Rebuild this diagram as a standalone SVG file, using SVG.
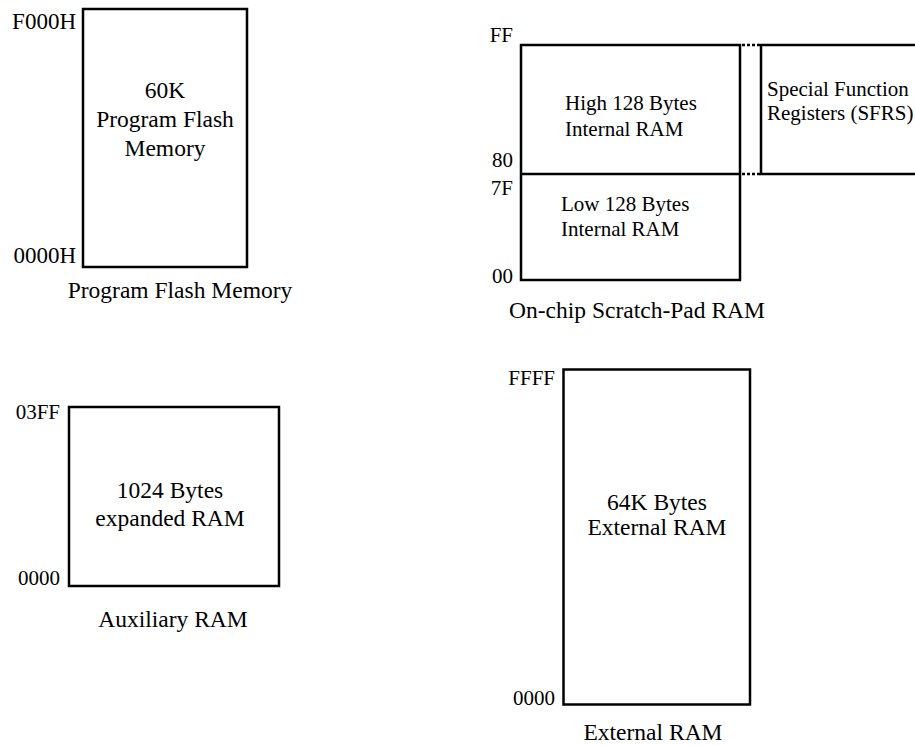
<svg xmlns="http://www.w3.org/2000/svg" width="915" height="745" viewBox="0 0 915 745">
<style>
.box{fill:#fff;stroke:#000;stroke-width:2.5}
.ln{stroke:#000;stroke-width:2.5;fill:none}
.dot{stroke:#000;stroke-width:2.5;stroke-dasharray:3 2;fill:none}
text{font-family:"Liberation Serif","Times New Roman",serif;fill:#000}
.t{font-size:23.5px;text-anchor:middle}
.s{font-size:21px}
.a{font-size:21px;text-anchor:end}
</style>
<rect width="915" height="745" fill="#fff"/>
<g id="flash">
<rect class="box" x="83" y="9" width="164" height="258"/>
<text class="a" x="76" y="29" style="font-size:23px">F000H</text>
<text class="a" x="76" y="263" style="font-size:23px">0000H</text>
<text class="t" x="165" y="98">60K</text>
<text class="t" x="165" y="127">Program Flash</text>
<text class="t" x="165" y="156">Memory</text>
<text class="t" x="180" y="298">Program Flash Memory</text>
</g>
<g id="scratchpad">
<rect class="box" x="521" y="45" width="219" height="235"/>
<line class="ln" x1="521" y1="174" x2="740" y2="174"/>
<text class="a" x="513" y="42">FF</text>
<text class="a" x="513" y="167">80</text>
<text class="a" x="513" y="195">7F</text>
<text class="a" x="513" y="283">00</text>
<text class="s" x="565" y="110">High 128 Bytes</text>
<text class="s" x="565" y="136">Internal RAM</text>
<text class="s" x="561" y="211">Low 128 Bytes</text>
<text class="s" x="561" y="236">Internal RAM</text>
<text class="t" x="637" y="318">On-chip Scratch-Pad RAM</text>
</g>
<g id="sfr">
<rect class="box" x="761" y="45" width="170" height="129"/>
<text class="s" x="767" y="96">Special Function</text>
<text class="s" x="767" y="120">Registers (SFRS)</text>
</g>
<g id="auxram">
<rect class="box" x="69" y="407" width="210" height="179"/>
<text class="a" x="60" y="419">03FF</text>
<text class="a" x="60" y="585">0000</text>
<text class="t" x="170" y="498">1024 Bytes</text>
<text class="t" x="170" y="526">expanded RAM</text>
<text class="t" x="173" y="627">Auxiliary RAM</text>
</g>
<g id="extram">
<rect class="box" x="563.5" y="369.5" width="186.5" height="335"/>
<text class="a" x="555" y="385">FFFF</text>
<text class="a" x="555" y="705">0000</text>
<text class="t" x="657" y="510">64K Bytes</text>
<text class="t" x="657" y="535">External RAM</text>
<text class="t" x="653" y="740">External RAM</text>
</g>
<g id="connectors">
<line class="dot" x1="742" y1="45" x2="760" y2="45"/>
<line class="dot" x1="742" y1="174" x2="760" y2="174"/>
</g>
</svg>
